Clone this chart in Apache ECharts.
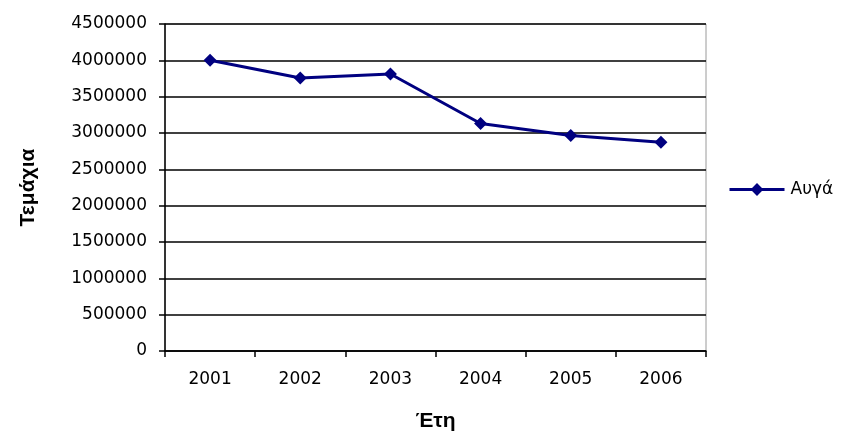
<!DOCTYPE html>
<html>
<head>
<meta charset="utf-8">
<script src="https://cdn.jsdelivr.net/npm/echarts@6/dist/echarts.min.js"></script>
<style>html,body{margin:0;padding:0;background:#fff;}#c{width:842px;height:437px;}</style>
</head>
<body>
<div id="c"></div>
<script>
var years = ['2001', '2002', '2003', '2004', '2005', '2006'];
var eggs = [4000000, 3757000, 3812000, 3130000, 2965000, 2873000];
var seriesName = 'Αυγά';
var xTitle = 'Έτη';
var yTitle = 'Τεμάχια';

var chart = echarts.init(document.getElementById('c'), null, {renderer: 'canvas'});
var tickFont = 'DejaVu Sans';
chart.setOption({
  backgroundColor: '#ffffff',
  animation: false,
  grid: {left: 165, right: 136, top: 24, bottom: 86, show: true, borderColor: '#9a9a9a', borderWidth: 1, backgroundColor: 'transparent'},
  legend: {
    left: 723, top: 176, orient: 'vertical',
    itemWidth: 55, itemHeight: 16, itemGap: 6,
    lineStyle: {width: 3, color: '#000080'},
    itemStyle: {color: '#000080'},
    textStyle: {fontFamily: tickFont, fontSize: 17, color: '#000', padding: [0, 0, 0, 1]},
    data: [seriesName]
  },
  xAxis: {
    type: 'category', data: years, boundaryGap: true,
    name: xTitle, nameLocation: 'middle', nameGap: 60,
    nameTextStyle: {fontFamily: 'Liberation Sans', fontWeight: 'bold', fontSize: 21, color: '#000'},
    axisLine: {lineStyle: {color: '#000', width: 1.5}},
    axisTick: {show: true, inside: false, length: 6, alignWithLabel: false, lineStyle: {color: '#000', width: 1.5}},
    axisLabel: {margin: 20, fontFamily: tickFont, fontSize: 17, color: '#000'},
    splitLine: {show: false}
  },
  yAxis: {
    type: 'value', min: 0, max: 4500000, interval: 500000,
    name: yTitle, nameLocation: 'middle', nameGap: 126, nameRotate: 90,
    nameTextStyle: {fontFamily: 'Liberation Sans', fontWeight: 'bold', fontSize: 21, color: '#000'},
    axisLine: {show: true, lineStyle: {color: '#000', width: 1.5}},
    axisTick: {show: true, inside: false, length: 6, lineStyle: {color: '#000', width: 1.5}},
    axisLabel: {margin: 18, fontFamily: tickFont, fontSize: 17, color: '#000', formatter: function (v) { return String(v); }},
    splitLine: {show: true, lineStyle: {color: '#000', width: 1.5}}
  },
  series: [{
    name: seriesName, type: 'line', data: eggs,
    symbol: 'diamond', symbolSize: 13,
    lineStyle: {color: '#000080', width: 3},
    itemStyle: {color: '#000080'}
  }]
});
</script>
</body>
</html>
